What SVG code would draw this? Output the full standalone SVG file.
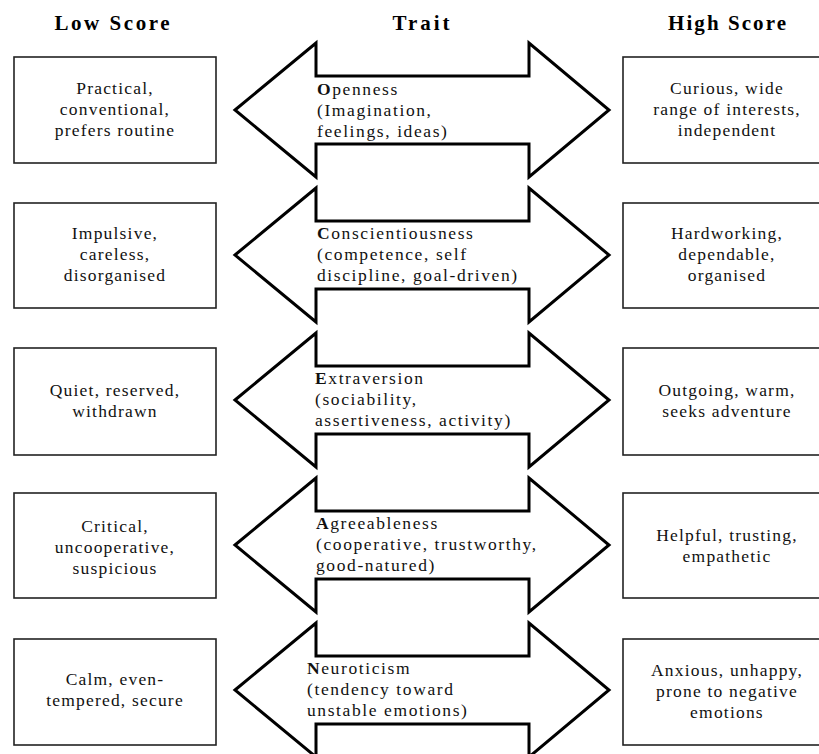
<svg xmlns="http://www.w3.org/2000/svg" width="819" height="754" viewBox="0 0 819 754">
<style>
  .bg { fill: #ffffff; }
  .box { fill: #ffffff; stroke: #222; stroke-width: 1.6; }
  .arrow { fill: #ffffff; stroke: #000; stroke-width: 3; stroke-linejoin: miter; }
  .hdr { font-family: "Liberation Serif", "Times New Roman", serif; font-weight: bold; font-size: 21px; fill: #000; text-anchor: middle; }
  .bt { font-family: "Liberation Serif", "Times New Roman", serif; font-size: 17.5px; fill: #111; text-anchor: middle; letter-spacing: 1.2px; }
  .tt { font-family: "Liberation Serif", "Times New Roman", serif; font-size: 17.5px; fill: #111; letter-spacing: 1.6px; }
  .b { font-weight: bold; }
</style>
<rect class="bg" x="0" y="0" width="819" height="754"/>

<g id="headers">
  <text class="hdr" x="112" y="30" textLength="115" lengthAdjust="spacing">Low Score</text>
  <text class="hdr" x="421" y="30" textLength="57" lengthAdjust="spacing">Trait</text>
  <text class="hdr" x="727" y="30" textLength="118" lengthAdjust="spacing">High Score</text>
</g>

<!-- Openness row -->
<g id="low-openness">
  <rect class="box" x="14" y="57" width="202" height="106"/>
  <text class="bt" x="115" y="94">Practical,</text>
  <text class="bt" x="115" y="115">conventional,</text>
  <text class="bt" x="115" y="136">prefers routine</text>
</g>
<g id="trait-openness">
  <path class="arrow" d="M235,110 L316,43 L316,76 L529,76 L529,43 L609,110 L529,177 L529,144 L316,144 L316,177 Z"/>
  <text class="tt" x="317" y="95"><tspan class="b">O</tspan>penness</text>
  <text class="tt" x="317" y="116">(Imagination,</text>
  <text class="tt" x="317" y="137">feelings, ideas)</text>
</g>
<g id="high-openness">
  <rect class="box" x="623" y="57" width="204" height="106"/>
  <text class="bt" x="727" y="94">Curious, wide</text>
  <text class="bt" x="727" y="115">range of interests,</text>
  <text class="bt" x="727" y="136">independent</text>
</g>

<!-- Conscientiousness row -->
<g id="low-conscientiousness">
  <rect class="box" x="14" y="203" width="202" height="105"/>
  <text class="bt" x="115" y="239">Impulsive,</text>
  <text class="bt" x="115" y="260">careless,</text>
  <text class="bt" x="115" y="281">disorganised</text>
</g>
<g id="trait-conscientiousness">
  <path class="arrow" d="M235,255 L316,188 L316,221 L529,221 L529,188 L609,255 L529,322 L529,289 L316,289 L316,322 Z"/>
  <text class="tt" x="317" y="239"><tspan class="b">C</tspan>onscientiousness</text>
  <text class="tt" x="317" y="260">(competence, self</text>
  <text class="tt" x="317" y="281">discipline, goal-driven)</text>
</g>
<g id="high-conscientiousness">
  <rect class="box" x="623" y="203" width="204" height="105"/>
  <text class="bt" x="727" y="239">Hardworking,</text>
  <text class="bt" x="727" y="260">dependable,</text>
  <text class="bt" x="727" y="281">organised</text>
</g>

<!-- Extraversion row -->
<g id="low-extraversion">
  <rect class="box" x="14" y="348" width="202" height="107"/>
  <text class="bt" x="115" y="396">Quiet, reserved,</text>
  <text class="bt" x="115" y="417">withdrawn</text>
</g>
<g id="trait-extraversion">
  <path class="arrow" d="M235,400 L316,333 L316,366 L529,366 L529,333 L609,400 L529,467 L529,434 L316,434 L316,467 Z"/>
  <text class="tt" x="315" y="384"><tspan class="b">E</tspan>xtraversion</text>
  <text class="tt" x="315" y="405">(sociability,</text>
  <text class="tt" x="315" y="426">assertiveness, activity)</text>
</g>
<g id="high-extraversion">
  <rect class="box" x="623" y="348" width="204" height="107"/>
  <text class="bt" x="727" y="396">Outgoing, warm,</text>
  <text class="bt" x="727" y="417">seeks adventure</text>
</g>

<!-- Agreeableness row -->
<g id="low-agreeableness">
  <rect class="box" x="14" y="493" width="202" height="105"/>
  <text class="bt" x="115" y="532">Critical,</text>
  <text class="bt" x="115" y="553">uncooperative,</text>
  <text class="bt" x="115" y="574">suspicious</text>
</g>
<g id="trait-agreeableness">
  <path class="arrow" d="M235,545 L316,478 L316,511 L529,511 L529,478 L609,545 L529,612 L529,579 L316,579 L316,612 Z"/>
  <text class="tt" x="316" y="529"><tspan class="b">A</tspan>greeableness</text>
  <text class="tt" x="316" y="550">(cooperative, trustworthy,</text>
  <text class="tt" x="316" y="571">good-natured)</text>
</g>
<g id="high-agreeableness">
  <rect class="box" x="623" y="493" width="204" height="105"/>
  <text class="bt" x="727" y="541">Helpful, trusting,</text>
  <text class="bt" x="727" y="562">empathetic</text>
</g>

<!-- Neuroticism row -->
<g id="low-neuroticism">
  <rect class="box" x="14" y="639" width="202" height="106"/>
  <text class="bt" x="115" y="685">Calm, even-</text>
  <text class="bt" x="115" y="706">tempered, secure</text>
</g>
<g id="trait-neuroticism">
  <path class="arrow" d="M235,690 L316,623 L316,656 L529,656 L529,623 L609,690 L529,757 L529,724 L316,724 L316,757 Z"/>
  <text class="tt" x="307" y="674"><tspan class="b">N</tspan>euroticism</text>
  <text class="tt" x="307" y="695">(tendency toward</text>
  <text class="tt" x="307" y="716">unstable emotions)</text>
</g>
<g id="high-neuroticism">
  <rect class="box" x="623" y="639" width="204" height="106"/>
  <text class="bt" x="727" y="676">Anxious, unhappy,</text>
  <text class="bt" x="727" y="697">prone to negative</text>
  <text class="bt" x="727" y="718">emotions</text>
</g>
</svg>
